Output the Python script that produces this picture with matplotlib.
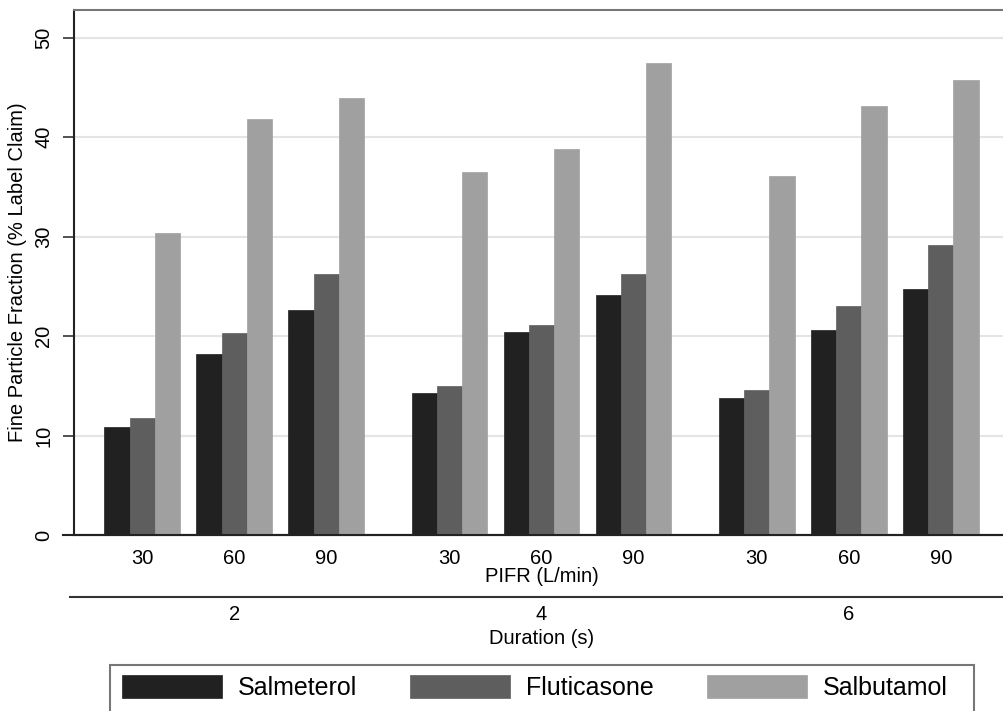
import numpy as np
import matplotlib
matplotlib.use("Agg")
import matplotlib.pyplot as plt
from matplotlib.lines import Line2D
from matplotlib.patches import Rectangle

plt.rcParams["font.family"] = ["Liberation Sans", "DejaVu Sans"]

# fine particle fraction by PIFR within each inhalation duration
durations = ["2", "4", "6"]
pifr = ["30", "60", "90"]
drugs = ["Salmeterol", "Fluticasone", "Salbutamol"]
colors = ["#212121", "#5e5e5e", "#a0a0a0"]

salmeterol = [10.9, 18.2, 22.6, 14.3, 20.4, 24.1, 13.8, 20.6, 24.7]
fluticasone = [11.8, 20.3, 26.2, 15.0, 21.1, 26.2, 14.6, 23.0, 29.2]
salbutamol = [30.4, 41.8, 43.9, 36.5, 38.8, 47.5, 36.1, 43.1, 45.8]
series = [salmeterol, fluticasone, salbutamol]

# spacing in bar-width units
bar_w = 1.0
clus_gap = 3.65
group_gap = 12.19

fig = plt.figure(figsize=(10.04, 7.11), dpi=100)
ax = fig.add_axes([74 / 1004, 1 - 535 / 711, 935 / 1004, 525 / 711])

centers = np.array([g * group_gap + p * clus_gap
                    for g in range(len(durations)) for p in range(len(pifr))])

for i, (vals, c) in enumerate(zip(series, colors)):
    ax.bar(centers + (i - 1) * bar_w, vals, width=bar_w, color=c,
           edgecolor=c, linewidth=0.5, zorder=3, label=drugs[i])

ax.set_xlim(centers[0] - 2.71, centers[-1] + 2.71)
ax.set_ylim(0, 52.8)

ax.set_yticks([0, 10, 20, 30, 40, 50])
ax.tick_params(axis="y", length=8, width=1.2, pad=7, labelsize=14.5,
               labelrotation=90, color="#333333")
for lab in ax.get_yticklabels():
    lab.set_va("center")
ax.set_xticks(centers)
ax.set_xticklabels(pifr * 3)
ax.tick_params(axis="x", length=0, pad=10, labelsize=14.5)

ax.yaxis.grid(True, color="#e4e4e4", linewidth=1.5, zorder=0)
ax.set_axisbelow(True)

for side in ["left", "bottom"]:
    ax.spines[side].set_color("#222222")
    ax.spines[side].set_linewidth(1.5)
ax.spines["top"].set_color("#777777")
ax.spines["top"].set_linewidth(1.5)
ax.spines["right"].set_visible(False)

ax.set_ylabel("Fine Particle Fraction (% Label Claim)", fontsize=14.5, labelpad=5)

# bottom axis line extended under the y ticks
ax.add_line(Line2D([-11 / 935, 1], [0, 0], transform=ax.transAxes,
                   color="#222222", lw=1.5, clip_on=False, zorder=5))

# outer category: duration
trans = ax.get_xaxis_transform()
mid = centers[4]
ax.text(mid, -42 / 525, "PIFR (L/min)", transform=trans, ha="center",
        va="center", fontsize=14.5)
ax.add_line(Line2D([-4 / 935, 1], [-62 / 525, -62 / 525], transform=ax.transAxes,
                   color="#333333", lw=1.5, clip_on=False))
for g, d in enumerate(durations):
    ax.text(centers[g * 3 + 1], -80 / 525, d, transform=trans, ha="center",
            va="center", fontsize=14.5)
ax.text(mid, -103 / 525, "Duration (s)", transform=trans, ha="center",
        va="center", fontsize=14.5)

# legend box runs off the bottom edge
fig.add_artist(Rectangle((110 / 1004, -0.05), 864 / 1004, 0.05 + 46 / 711,
                         transform=fig.transFigure, facecolor="white",
                         edgecolor="#777777", linewidth=1.5))
leg = fig.legend(loc="upper left", bbox_to_anchor=(122 / 1004, 1 - 675 / 711),
                 ncol=3, fontsize=18, frameon=False,
                 handlelength=4.0, handleheight=1.05, handletextpad=0.64,
                 columnspacing=2.12, borderpad=0, borderaxespad=0)

fig.savefig("out.png", dpi=100)
